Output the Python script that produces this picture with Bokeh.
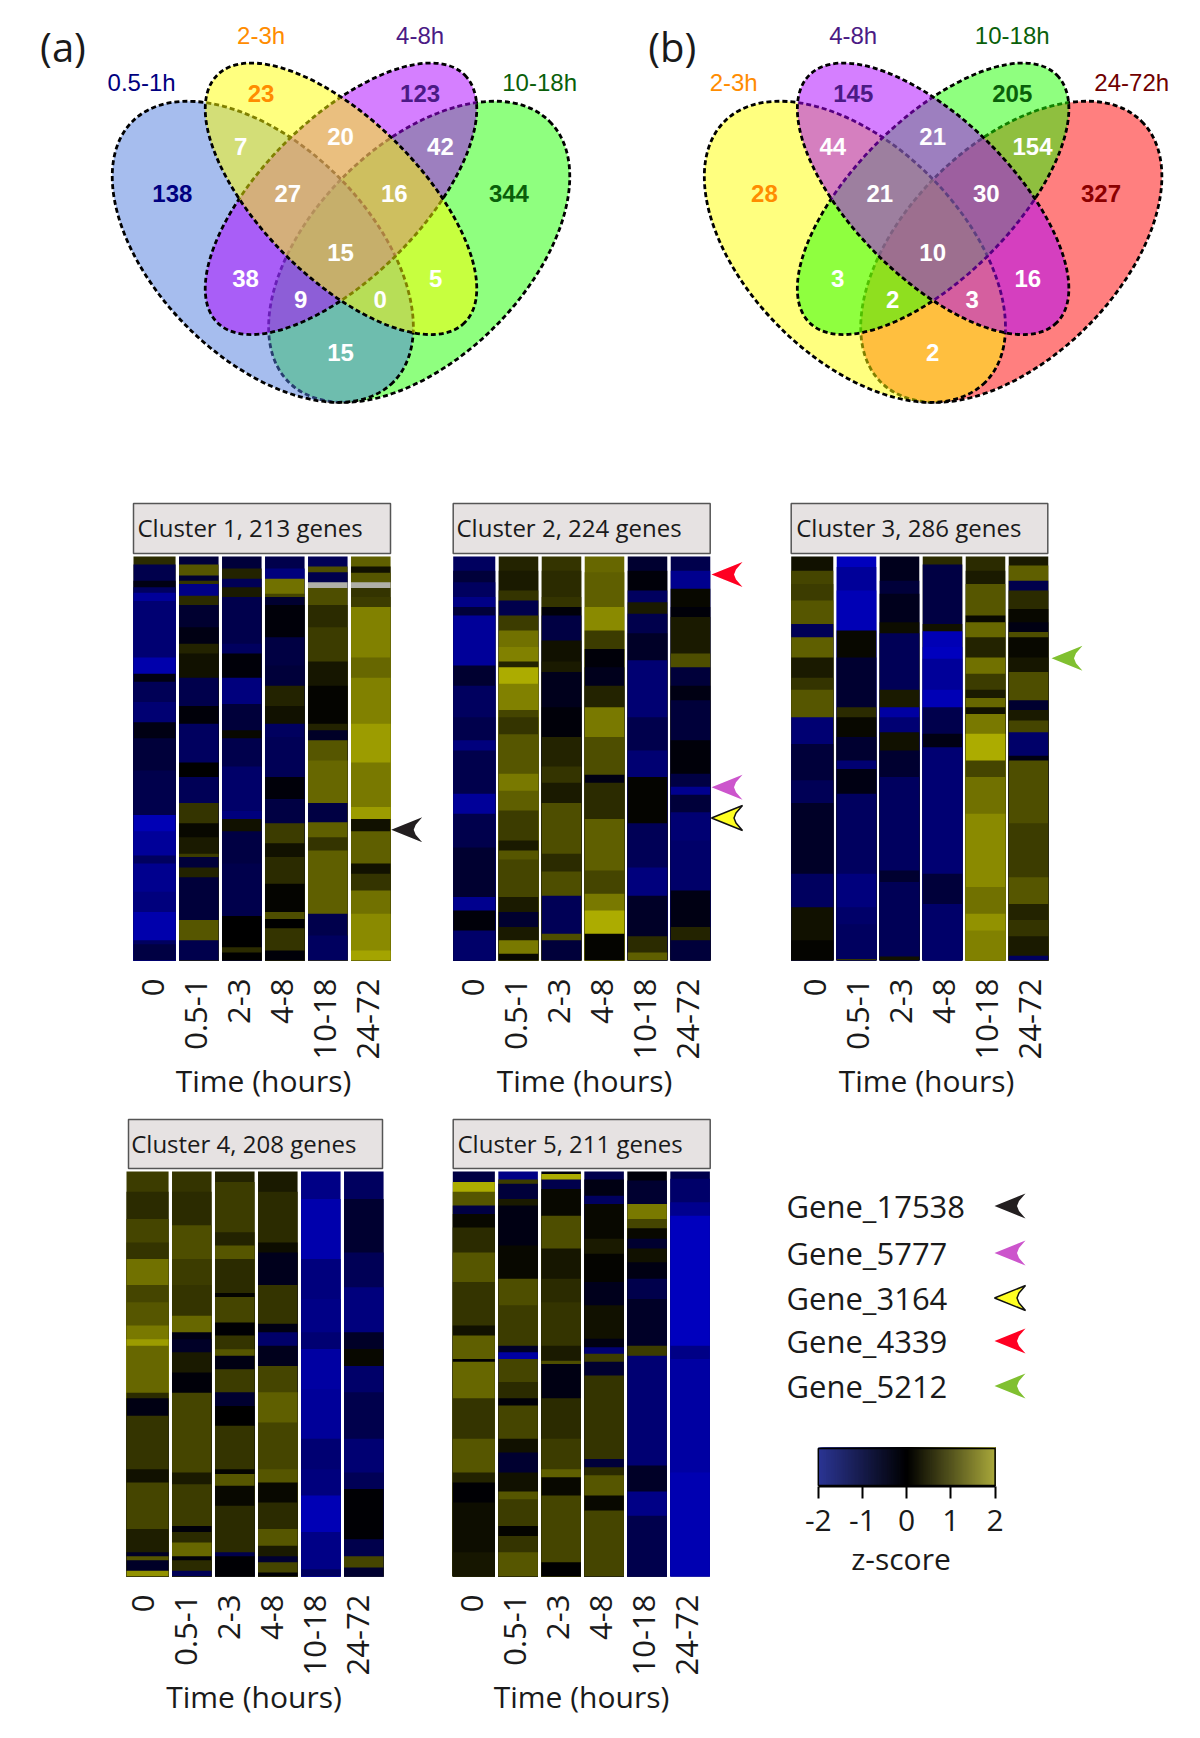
import math
from bokeh.plotting import figure
from bokeh.layouts import column, row
from bokeh.models import (ColumnDataSource, Range1d, LinearColorMapper, FixedTicker, Label)
from bokeh.core.properties import value
from bokeh.embed import file_html
from bokeh.resources import INLINE

NAN = float("nan")

# ---------- DATA ----------
TIME_LABELS = ["0", "0.5-1", "2-3", "4-8", "10-18", "24-72"]
CLUSTER_TITLES = ["Cluster 1, 213 genes", "Cluster 2, 224 genes", "Cluster 3, 286 genes",
                  "Cluster 4, 208 genes", "Cluster 5, 211 genes"]
CLUSTER_GENES = [213, 224, 286, 208, 211]

# Venn diagrams: counts by region
VENN_A_SETS = ["0.5-1h", "2-3h", "4-8h", "10-18h"]
VENN_A_COUNTS = [138, 23, 123, 344, 7, 20, 42, 27, 16, 15, 38, 5, 9, 0, 15]
VENN_B_SETS = ["2-3h", "4-8h", "10-18h", "24-72h"]
VENN_B_COUNTS = [28, 145, 205, 327, 44, 21, 154, 21, 30, 10, 3, 16, 2, 3, 2]

# Heatmap columns: (cumulative % of the cluster's genes, z-score)
C1_T0 = [(2,.5),(6,-.8),(7.6,-.2),(9,-1),(11,-1.6),(25,-1.2),(29,-1.8),(31,-.2),(36,-.9),(41,-1.2),(45,-.2),(53,-.6),(64,-.8),(68,-1.9),(74,-1.6),(76,-1),(83,-1.5),(88,-1.3),(95,-1.8),(96,-1),(100,-.7)]
C1_T1 = [(2,-.6),(4.7,1),(6,-.5),(6.8,.6),(9.7,-1.4),(12,.5),(17.5,-.5),(21.6,-.2),(24,.4),(30,.2),(37,-.8),(41.4,-.1),(51,-1),(54.6,0),(61,-.9),(66,.6),(69.5,.1),(73.6,.3),(74.4,.7),(77,-.6),(79.4,.4),(90,-.6),(95,1),(100,-.8)]
C1_T2 = [(3,-.6),(5.5,.4),(7.6,-.9),(10,.3),(21.6,-.8),(24,-1),(30,-.1),(36.5,-1.3),(43,-.6),(45,.1),(52,-.8),(63,-1.1),(65,-1.3),(68,.2),(76,-.7),(84,-.8),(89,-.8),(96.7,0),(98,.5),(100,0)]
C1_T3 = [(3,-.8),(5.5,-1.3),(9.2,1.3),(10,.8),(12,-.5),(20,-.1),(27,-.7),(32,-.6),(37,.4),(41.4,.2),(44.7,-1),(54.6,-.9),(60,-.1),(66,-.7),(71,.7),(74.4,.2),(81,.5),(88,.05),(89.7,.9),(92,0),(97.5,.6),(100,-.1)]
C1_T4 = [(2.5,-.9),(3.9,.9),(6.4,-.8),(7.8,NAN),(12,.9),(17.5,.5),(26,.7),(32,.25),(41.4,.05),(43,.4),(45.5,-.4),(50.5,1),(61,1.2),(65.8,-.7),(69.5,1.1),(72.8,.6),(88.4,1.1),(93.8,-.8),(100,-1)]
C1_T5 = [(2.5,1.1),(4,.2),(6.4,1),(7.8,NAN),(10,.6),(12.5,.7),(25,1.5),(30,1.2),(41.4,1.5),(51,1.8),(62,1.4),(65,1.8),(68,.2),(76,1.1),(78.5,.2),(82.7,.6),(88.4,1.3),(97.5,1.6),(100,1.9)]

C2_T0 = [(3.5,-1),(6.4,-.6),(10,-1),(12.5,-1.4),(14.6,-.6),(27,-1.6),(32,-.5),(39.8,-1),(45.5,-.8),(48,-1.3),(58.7,-.8),(63.7,-1.6),(72,-.8),(84.3,-.5),(87.6,-1.5),(92.6,-.1),(100,-1.1)]
C2_T1 = [(3.5,.4),(8.4,.3),(10.9,.6),(14.6,-.8),(18.3,.7),(22.4,1.3),(26,1.5),(27.4,.4),(31.5,2),(38,1.5),(39.8,.8),(44,.6),(53.8,1),(58,1.4),(62.9,1.1),(70.3,.7),(72.8,.3),(75,1),(84.3,.8),(88,.3),(91.7,-.5),(95,.3),(98.3,1.4),(100,.1)]
C2_T2 = [(3.5,.6),(10,.5),(12.5,.6),(14.6,-.1),(20.8,-.7),(26,.2),(28.6,.3),(37.3,-.3),(44.7,-.1),(52,.4),(56,.6),(61,.3),(73.6,.9),(78,.5),(84,.9),(93.4,-.9),(95,.9),(100,-.6)]
C2_T3 = [(3.9,1.2),(12.5,1.1),(18.3,1.6),(22.9,.7),(27.4,-.1),(32,-.3),(37.3,.4),(44.7,1.4),(54,.9),(56,-.2),(65,.5),(77.7,1.1),(83.5,.8),(87.6,1.4),(93.4,2),(100,.05)]
C2_T4 = [(3.5,-.5),(8.4,-.1),(11.3,-1),(14.2,.3),(19,-.8),(25.7,-.4),(39.8,-1.2),(48,-.8),(54.6,-1.2),(66,.05),(77,-.9),(84,-1.3),(94,-.4),(98,.5),(100,1.1)]
C2_T5 = [(3.5,-.8),(8,-1.5),(12.5,.1),(15,-.1),(24,.3),(27.4,.9),(32,-.6),(35.6,-.2),(45.5,-.6),(53.8,-.1),(57,-.7),(59,-1.5),(63.3,-.6),(70.3,-1.2),(82.7,-1.1),(91.7,-.2),(95,.4),(100,-.6)]

C3_T0 = [(3.5,.2),(6.8,.8),(10.9,.7),(16.7,1),(20,-.9),(25,1.1),(30,.3),(33,.6),(39.8,1),(46.4,-1.2),(55.4,-.6),(61,-.9),(78.5,-.4),(86.8,-1),(95,.2),(100,.05)]
C3_T1 = [(2.6,-2),(8.4,-1.6),(18.3,-1.9),(25,.1),(37.3,-.5),(39.8,.5),(44.7,.1),(50.5,-.5),(52.6,-1.2),(58.7,-.2),(78.5,-1),(86.8,-1.3),(91,-1.1),(99.6,-1),(100,.6)]
C3_T2 = [(6,-.3),(9.2,-.6),(16.3,-.3),(19,.15),(33,-.9),(37.3,.3),(39.8,-1.7),(43.5,-1.2),(48,.2),(54.6,-.5),(77.7,-1),(80.6,-.5),(99,-.9),(100,.2)]
C3_T3 = [(2,.5),(16.7,-.7),(18.5,.2),(22.4,-1.9),(25.3,-2),(33,-1.6),(37.3,-1.9),(43.9,-.8),(47.2,-.2),(78.5,-1.2),(86,-.6),(100,-1.1)]
C3_T4 = [(3.5,.5),(6.8,.3),(14.6,1),(16.3,.1),(20,1.2),(25,.4),(29,1.3),(33,.7),(35,.3),(37.3,1.2),(39,.2),(43.9,1.4),(50.5,2),(54.6,.8),(63.7,1.3),(81.8,1.6),(88.4,1.3),(92.6,1.7),(100,1.5)]
C3_T5 = [(2.2,.3),(6,1.1),(8.4,-.8),(13,.5),(16.3,.1),(18.7,-.2),(20,.9),(25,.1),(28.6,.25),(35.6,.9),(38,-.5),(40.6,.3),(43.5,.8),(49.3,-1.1),(50.5,-.2),(66,.9),(79.4,.7),(86,1),(90,.4),(94,.6),(98.8,.3),(100,-1)]

C4_T0 = [(5,.7),(11.7,.5),(17.5,.8),(21.6,.6),(28,1.3),(32.3,.8),(38,1),(41.4,1.4),(43,1.8),(54.6,1.2),(56,.5),(60.3,-.2),(73.5,.6),(76.8,.2),(88.3,.8),(94,.35),(95,-.4),(96,1),(98.6,-.4),(100,1.7)]
C4_T1 = [(5,.6),(13.3,.5),(21.6,.9),(28,.7),(35.6,.6),(39.7,1.2),(41.4,-.2),(44.6,-.4),(49.6,.3),(54.6,-.1),(74.3,.8),(77.2,.3),(87.5,.7),(89,-.1),(91.6,.5),(95,1.2),(96,-.1),(98.6,.5),(100,-.9)]
C4_T2 = [(2.6,.4),(15,.7),(18.3,.4),(21.6,1),(30,.5),(31,.05),(37.3,.8),(40.5,-.05),(43.9,.6),(45.5,1),(48.8,-.2),(54.5,.7),(57.9,-.5),(62.8,0),(73.5,.6),(74.7,.05),(77.6,1),(82.5,.1),(94,.5),(95,-.8),(100,-.05)]
C4_T3 = [(5,.3),(17.5,.5),(20,.15),(28,-.3),(37.6,.6),(39.7,-.2),(43,-1.1),(48,-.3),(54.5,.8),(62,1.1),(73.5,.8),(76.8,1),(81.7,.1),(88.3,.5),(92.4,1),(95,.3),(96.5,-.5),(99,.8),(100,-.05)]
C4_T4 = [(6.8,-1.4),(21.6,-1.8),(31.5,-1.3),(39.7,-1.4),(43.8,-1.2),(53.7,-1.7),(66,-1.6),(73.5,-1.2),(80,-1.3),(89,-1.9),(98.2,-1.4),(100,-1)]
C4_T5 = [(6.8,-1),(20,-.5),(28.6,-.9),(39.7,-1.3),(43.8,-.4),(48,.1),(54.5,-1.1),(66,-.8),(74.3,-1.2),(78.4,-.9),(90.8,-.05),(95,-.8),(97.8,.8),(100,-.5)]

C5_T0 = [(2.6,-.7),(5,2),(8.4,1),(10.5,-.7),(13.8,.1),(20,.5),(27.3,1),(38,.6),(40.5,.2),(46.3,1.1),(47,-.05),(56,1.2),(66,.6),(74.3,1),(76.8,.4),(81.7,-.05),(94,.15),(100,.25)]
C5_T1 = [(2,-1.4),(3,.7),(6.8,-.6),(8.4,.3),(18.3,-.2),(26.5,.1),(33,.9),(43,.7),(44.6,-.4),(46.3,-1.7),(52,.8),(56,.5),(57.8,-.1),(66,.8),(69.4,.2),(74.3,-.5),(79,.2),(80.9,1),(87.5,.7),(90,.05),(94,.6),(100,1)]
C5_T2 = [(.6,-.1),(2,2),(4.3,-.8),(10.9,.1),(19,.9),(26.5,.25),(32.3,.5),(43,.6),(46.7,.3),(47.5,.9),(56,-.2),(66,.5),(73.5,.7),(75.5,1.1),(80,.1),(96.5,.8),(100,-.02)]
C5_T3 = [(2,-.8),(6,-.2),(8,-1),(16.6,.1),(20.3,.3),(27.3,.05),(33,-.3),(41.3,.2),(43.4,-.2),(45,-1.2),(47,.7),(50.4,-.5),(71,.6),(73,-.6),(75,.5),(80,1),(83.7,.1),(100,.8)]
C5_T4 = [(2.2,-.1),(8,-.5),(11.7,1.4),(14,.8),(16.6,.1),(19,-.5),(22.4,.2),(26.5,-.2),(31.5,-.8),(43,-.4),(45.5,.7),(72.6,-1.2),(79,-.4),(85,-1.4),(100,-.8)]
C5_T5 = [(1.8,-.8),(7.6,-1.1),(10.9,-1.5),(43,-2),(46.3,-1.4),(74.3,-1.7),(100,-1.85)]

CLUSTERS = [[C1_T0, C1_T1, C1_T2, C1_T3, C1_T4, C1_T5],
            [C2_T0, C2_T1, C2_T2, C2_T3, C2_T4, C2_T5],
            [C3_T0, C3_T1, C3_T2, C3_T3, C3_T4, C3_T5],
            [C4_T0, C4_T1, C4_T2, C4_T3, C4_T4, C4_T5],
            [C5_T0, C5_T1, C5_T2, C5_T3, C5_T4, C5_T5]]

GENE_NAMES = ["Gene_17538", "Gene_5777", "Gene_3164", "Gene_4339", "Gene_5212"]
GENE_CLUSTER = [0, 1, 1, 1, 2]
GENE_ROW = [144, 128, 145, 10, 72]
Z_TICKS = [-2, -1, 0, 1, 2]

# ---------- STYLE / LAYOUT ----------
FONT = "Open Sans"
VFONT = "Liberation Sans"
TXT = "#1a1a1a"
GENE_FILL = ["#231f20", "#cc55cc", "#ffff22", "#ff0022", "#80c030"]
GENE_LINE = [None, None, "#111111", None, None]


def rgb_lerp(a, b, n):
    return [(a[0] + (b[0] - a[0]) * i / (n - 1), a[1] + (b[1] - a[1]) * i / (n - 1), a[2] + (b[2] - a[2]) * i / (n - 1)) for i in range(n)]


def palette(low, mid, high, n=129):
    cols = rgb_lerp(low, mid, n)[:-1] + rgb_lerp(mid, high, n)
    return ["#%02x%02x%02x" % tuple(int(round(c)) for c in col) for col in cols]


HEAT = LinearColorMapper(palette=palette((0, 0, 190), (0, 0, 0), (172, 172, 0)), low=-2, high=2, nan_color="#b0b0a8")
KEYBAR = LinearColorMapper(palette=palette((43, 53, 147), (0, 0, 0), (170, 169, 59)), low=-2, high=2)

# Venn geometry (page px)
VS = 1.1097
OUTER = dict(dx=78.2, y=251.3, a=184.4, b=106.5, ang=45.0)
INNER = dict(dx=0.0, y=198.3, a=175.0, b=79.0, ang=45.0)
REGION_DX = [d * VS for d in [-152, -72, 71.3, 151.3, -90.4, -.4, 89.6, -48, 48, -.4, -86, 85.3, -36.4, 35.3, -.4]]
REGION_Y = [193.3, 93.3, 93.3, 193.3, 146, 136, 146, 193.3, 193.3, 251.7, 278.3, 278.3, 299, 299, 351.7]
SET_DX = [d * VS for d in [-179.7, -72, 71.3, 179]]
SET_Y = [81.7, 35, 35, 81.7]


def venn(page_l, page_r, cx, fills, order, sets, set_cols, counts, count_cols, tag, tag_x):
    p = figure(width=page_r - page_l, height=490, x_range=Range1d(page_l, page_r), y_range=Range1d(-490, 0),
               x_axis_location=None, y_axis_location=None, toolbar_location=None, output_backend="svg",
               min_border=0, outline_line_color=None, frame_align=False)
    p.grid.visible = False
    shapes = {"left_outer": (cx - OUTER["dx"], OUTER, -1), "right_outer": (cx + OUTER["dx"], OUTER, 1),
              "left_inner": (cx, INNER, -1), "right_inner": (cx, INNER, 1)}
    for key in order:
        x, g, sgn = shapes[key]
        p.ellipse(x=x, y=-g["y"], width=2 * g["a"], height=2 * g["b"],
                  angle=(sgn * g["ang"]) * math.pi / 180, fill_color=fills[key], fill_alpha=.5,
                  line_color="#000000", line_width=2.8, line_dash="5 3")
    p.text(x=[cx + d for d in SET_DX], y=[-v for v in SET_Y], text=sets, text_color=set_cols,
           text_font=value(VFONT), text_font_size="24px", text_align="center", text_baseline="middle")
    p.text(x=[cx + d for d in REGION_DX], y=[-v for v in REGION_Y], text=[str(c) for c in counts],
           text_color=count_cols, text_font=value(VFONT), text_font_size="24px", text_font_style="bold",
           text_align="center", text_baseline="middle")
    p.text(x=[tag_x], y=[-46], text=[tag], text_color=TXT, text_font=value(FONT), text_font_size="40px",
           text_align="center", text_baseline="middle")
    return p


PITCH = 43.0
COL_HALF = 0.46


def arrow_xs(tip, scale):
    return [tip, tip + 31 * scale, tip + 24.5 * scale, tip + 22.5 * scale, tip + 24.5 * scale, tip + 31 * scale]


def arrow_ys(mid, scale):
    return [mid, mid - 12.5 * scale, mid - 5 * scale, mid, mid + 5 * scale, mid + 12.5 * scale]


def heat_panel(idx, page_l, page_r, frame_l, frame_r, top, heat_top, heat_h, heat_l, box_l, box_r, box_top, box_bot, text_l, height, tick_dx, tip=None, tag=None):
    n = CLUSTER_GENES[idx]
    unit0 = heat_l + 22.3
    to_x = lambda px: (px - unit0) / PITCH
    per_px = n / heat_h
    to_y = lambda py: (py - heat_top) * per_px
    p = figure(width=page_r - page_l, height=height,
               x_range=Range1d(to_x(frame_l), to_x(frame_r)), y_range=Range1d(to_y(heat_top + heat_h), to_y(top)),
               y_axis_location=None, toolbar_location=None, output_backend="svg", outline_line_color=None,
               frame_align=False,
               min_border_left=frame_l - page_l, min_border_right=page_r - frame_r, min_border_top=0,
               min_border_bottom=height - (heat_top + heat_h - top))
    p.grid.visible = False
    ticks = [round(i + tick_dx / PITCH, 3) for i in range(6)]
    p.xaxis.ticker = FixedTicker(ticks=ticks)
    p.xaxis.major_label_overrides = dict(zip(ticks, TIME_LABELS))
    p.xaxis.major_label_orientation = math.pi / 2
    p.xaxis.major_label_text_font = FONT
    p.xaxis.major_label_text_font_size = "31px"
    p.xaxis.major_label_text_color = TXT
    p.xaxis.major_label_standoff = 12
    p.xaxis.axis_line_color = None
    p.xaxis.major_tick_line_color = None
    p.xaxis.minor_tick_line_color = None
    p.xaxis.axis_label = "Time (hours)"
    p.xaxis.axis_label_text_font = FONT
    p.xaxis.axis_label_text_font_size = "30px"
    p.xaxis.axis_label_text_font_style = "normal"
    p.xaxis.axis_label_text_color = TXT
    p.xaxis.axis_label_standoff = -2

    for i, bands in enumerate(CLUSTERS[idx]):
        tops = [0.0] + [b[0] * n / 100 for b in bands[:-1]]
        src = ColumnDataSource(dict(top=tops, z=[b[1] for b in bands]))
        left = to_x(heat_l) if i == 0 else i - COL_HALF
        p.quad(left=left, right=i + COL_HALF, top="top", bottom=n, source=src,
               fill_color={"field": "z", "transform": HEAT}, line_color=None)

    p.quad(left=[to_x(box_l)], right=[to_x(box_r)], top=[to_y(box_top)], bottom=[to_y(box_bot)],
           fill_color="#e6e2e2", line_color="#555555", line_width=1.5)
    p.text(x=[to_x(text_l)], y=[to_y((box_top + box_bot) / 2 - 1)], text=[CLUSTER_TITLES[idx]], text_color=TXT,
           text_font=value(FONT), text_font_size="24px", text_align="left", text_baseline="middle")

    for g, (c, r) in enumerate(zip(GENE_CLUSTER, GENE_ROW)):
        if c == idx:
            xs = arrow_xs(to_x(tip), 1 / PITCH)
            ys = arrow_ys(r, per_px)
            p.patch(xs, ys, fill_color=GENE_FILL[g], line_color=GENE_LINE[g], line_width=1.5)
    if tag:
        p.add_layout(Label(x=to_x(58), y=to_y(528), text=tag, text_font=FONT, text_font_size="40px",
                           text_color=TXT, text_align="center", text_baseline="middle"))
    return p


# ----- top row -----
venn_a = venn(0, 600, 340.5,
              dict(left_outer="#4d7bdd", right_outer="#1fff00", left_inner="#ffff00", right_inner="#ab00ff"),
              ["right_outer", "left_outer", "right_inner", "left_inner"],
              VENN_A_SETS, ["#000080", "#ff8c00", "#4b1a85", "#0a5f0a"], VENN_A_COUNTS,
              ["#000080", "#ff8c00", "#4b1a85", "#0a5f0a"] + ["#ffffff"] * 11, "(a)", 62.5)
venn_b = venn(600, 1200, 932.6,
              dict(left_outer="#ffff00", right_outer="#ff0000", left_inner="#ab00ff", right_inner="#1fff00"),
              ["right_outer", "left_outer", "right_inner", "left_inner"],
              VENN_B_SETS, ["#ff8c00", "#4b1a85", "#0a5f0a", "#700000"], VENN_B_COUNTS,
              ["#ff8c00", "#4b1a85", "#0a5f0a", "#8b0000"] + ["#ffffff"] * 11, "(b)", 671.8)

# ----- heat rows -----
H2, H3 = 615, 633
h1 = heat_panel(0, 0, 425, 101, 425, 490, 556, 404, 133, 133, 390, 503, 553, 137, H2, -3, tip=390.7, tag="(c)")
h2 = heat_panel(1, 425, 770, 425, 743, 490, 556, 404, 452.7, 452.7, 709.7, 503, 553, 456, H2, -2, tip=711)
h3 = heat_panel(2, 770, 1200, 770, 1082, 490, 556, 404, 790.7, 790.7, 1047.3, 503, 553, 795.7, H2, 1.5, tip=1051)
h4 = heat_panel(3, 0, 430, 100, 407, 1105, 1171, 405, 126, 128, 382, 1119, 1168, 130.7, H3, -5.5)
h5 = heat_panel(4, 430, 740, 430, 732, 1105, 1171, 405, 452.3, 452.7, 709.7, 1119, 1168, 457, H3, -3.5)

# ----- legend + colour key -----
Z_PX = 44.2
Z0_PX = 906.2
frame_l, frame_r = 740, 1061
key = figure(width=1200 - 740, height=H3, x_range=Range1d((frame_l - Z0_PX) / Z_PX, (frame_r - Z0_PX) / Z_PX),
             y_range=Range1d(1486, 1105), y_axis_location=None, toolbar_location=None, output_backend="svg",
             outline_line_color=None, frame_align=False, min_border_left=0, min_border_right=1200 - frame_r,
             min_border_top=0, min_border_bottom=1738 - 1486)
key.grid.visible = False
key.extra_x_ranges["page"] = Range1d(frame_l, frame_r)
strip_z = [-2 + 4 * i / 160 for i in range(160)]
key.quad(left=strip_z, right=2, top=1447, bottom=1485, fill_color={"field": "left", "transform": KEYBAR},
         line_color=None)
key.quad(left=[-2], right=[2], top=[1448], bottom=[1485], fill_color=None, line_color="#000000", line_width=1.5)
key.xaxis.ticker = FixedTicker(ticks=Z_TICKS)
key.xaxis.bounds = (-2, 2)
key.xaxis.major_label_overrides = {z: str(z) for z in Z_TICKS}
key.xaxis.major_label_text_font = FONT
key.xaxis.major_label_text_font_size = "30px"
key.xaxis.major_label_text_color = TXT
key.xaxis.major_label_standoff = 11
key.xaxis.axis_line_width = 2
key.xaxis.axis_line_color = "#000000"
key.xaxis.major_tick_line_width = 2
key.xaxis.major_tick_line_color = "#000000"
key.xaxis.major_tick_out = 12
key.xaxis.major_tick_in = 0
key.xaxis.minor_tick_line_color = None
key.xaxis.axis_label = "z-score"
key.xaxis.axis_label_text_font = FONT
key.xaxis.axis_label_text_font_size = "30px"
key.xaxis.axis_label_text_font_style = "normal"
key.xaxis.axis_label_text_color = TXT
key.xaxis.axis_label_standoff = 4

GENE_Y = [1205.5, 1252.5, 1297.5, 1340.5, 1385.5]
key.text(x=[786] * 5, y=GENE_Y, text=GENE_NAMES, x_range_name="page", text_color=TXT, text_font=value(FONT),
         text_font_size="31px", text_align="left", text_baseline="middle")
for g, gy in enumerate(GENE_Y):
    key.patch(arrow_xs(994, 1.0), arrow_ys(gy, 1.0), x_range_name="page", fill_color=GENE_FILL[g],
              line_color=GENE_LINE[g], line_width=1.5)

page = column(row(venn_a, venn_b), row(h1, h2, h3), row(h4, h5, key))
open("out.html", "w").write(file_html(page, INLINE))
